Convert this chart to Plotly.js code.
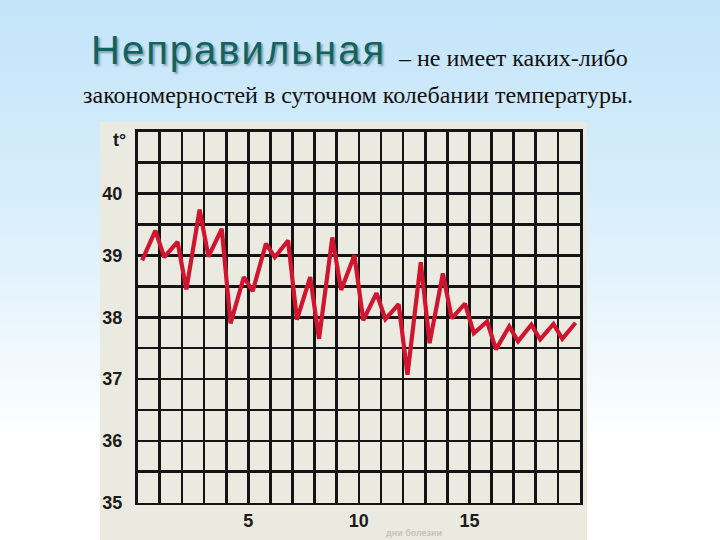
<!DOCTYPE html>
<html>
<head>
<meta charset="utf-8">
<script src="https://cdn.plot.ly/plotly-3.0.1.min.js"></script>
<style>
html, body { margin: 0; padding: 0; }
body {
  width: 720px; height: 540px; overflow: hidden;
  background: linear-gradient(to bottom, #C3E4F9 0%, #D6EDFB 35%, #EAF6FD 60%, #FFFFFF 82%, #FFFFFF 100%);
}
#chart { width: 720px; height: 540px; }
.annotation[data-index="0"] text { letter-spacing: 2px; }
</style>
</head>
<body>
<div id="chart"></div>
<script>
// Days of illness
const days = [1,2,3,4,5,6,7,8,9,10,11,12,13,14,15,16,17,18,19,20];
// Morning temperature readings, °C
const morning = [38.92, 38.97, 38.45, 38.98, 37.90, 38.42, 38.97, 37.96, 37.65, 38.44,
                 37.95, 37.97, 37.07, 37.58, 37.98, 37.74, 37.48, 37.61, 37.64, 37.65];
// Evening temperature readings, °C
const evening = [39.40, 39.22, 39.74, 39.43, 38.65, 39.19, 39.24, 38.65, 39.29, 39.00,
                 38.39, 38.21, 38.89, 38.71, 38.22, 37.93, 37.85, 37.88, 37.89, 37.91];
// Tick labels
const xTickLabels = ["5", "10", "15"];
const xTickValues = [5, 10, 15];
const yTickValues = [35, 36, 37, 38, 39, 40];
const yTickLabels = ["35", "36", "37", "38", "39", "40"];
const yUnitLabel = "t°";
const xTitle = "дни болезни";
const titleMain = "Неправильная";
const titleRest = "– не имеет каких-либо";
const titleLine2 = "закономерностей в суточном колебании температуры.";

// Build the morning/evening sequence
const xs = [], ys = [];
days.forEach((d, i) => {
  xs.push(d - 1 + 0.2); ys.push(morning[i]);
  xs.push(d - 1 + 0.8); ys.push(evening[i]);
});

const trace = {
  x: xs, y: ys, type: 'scatter', mode: 'lines',
  line: { color: '#D0152F', width: 4.2, shape: 'linear' },
  hoverinfo: 'skip', showlegend: false
};

const serif = '"Liberation Serif", "Times New Roman", "DejaVu Serif", serif';
const tickFont = { family: '"Liberation Sans", Arial, sans-serif', size: 18, color: '#1b1b1b', weight: 'bold' };

const layout = {
  width: 720, height: 540,
  margin: { l: 0, r: 0, t: 0, b: 0 },
  paper_bgcolor: 'rgba(0,0,0,0)',
  plot_bgcolor: '#EEEDE5',
  showlegend: false,
  xaxis: {
    domain: [137.7/720, 580/720],
    range: [0, 20],
    tickmode: 'array', tickvals: xTickValues, ticktext: xTickLabels,
    ticks: '', tickfont: tickFont, ticklabelstandoff: 0,
    showgrid: true, gridcolor: '#141414', gridwidth: 2.7,
    minor: { dtick: 1, tick0: 0, showgrid: true, gridcolor: '#141414', gridwidth: 2.7 },
    showline: true, linecolor: '#141414', linewidth: 2.7, mirror: true,
    zeroline: false, fixedrange: true
  },
  yaxis: {
    domain: [(540-502.7)/540, (540-131.7)/540],
    range: [35, 41],
    tickmode: 'array', tickvals: yTickValues, ticktext: yTickLabels,
    ticks: '', tickfont: tickFont, ticklabelstandoff: 9,
    showgrid: true, gridcolor: '#141414', gridwidth: 2.7,
    minor: { dtick: 0.5, tick0: 35, showgrid: true, gridcolor: '#141414', gridwidth: 2.7 },
    showline: true, linecolor: '#141414', linewidth: 2.7, mirror: true,
    zeroline: false, fixedrange: true
  },
  shapes: [
    { type: 'rect', xref: 'paper', yref: 'paper', layer: 'below',
      x0: 100/720, x1: 587/720, y0: 0, y1: 1 - 122/540,
      fillcolor: '#EAEAE0', line: { width: 0 } }
  ],
  annotations: [
    { text: titleMain, xref: 'paper', yref: 'paper', x: 101/720, y: 1 - 50/540,
      xanchor: 'left', yanchor: 'middle', showarrow: false,
      font: { family: '"Liberation Sans", Arial, sans-serif', size: 40, color: '#12625F',
              shadow: '2px 2px 2px rgba(0,40,40,0.35)' } },
    { text: titleRest, xref: 'paper', yref: 'paper', x: 396/720, y: 1 - 58/540,
      xanchor: 'left', yanchor: 'middle', showarrow: false,
      font: { family: serif, size: 24, color: '#111' } },
    { text: titleLine2, xref: 'paper', yref: 'paper', x: 358/720, y: 1 - 95/540,
      xanchor: 'center', yanchor: 'middle', showarrow: false,
      font: { family: serif, size: 24, color: '#111' } },
    { text: yUnitLabel, xref: 'paper', yref: 'paper', x: 128/720, y: 1 - 140/540,
      xanchor: 'right', yanchor: 'middle', showarrow: false,
      font: tickFont },
    { text: xTitle, xref: 'paper', yref: 'paper', x: 414/720, y: 0,
      xanchor: 'center', yanchor: 'bottom', showarrow: false,
      font: { family: '"Liberation Sans", Arial, sans-serif', size: 9, color: '#c4c4bc', weight: 'bold' } }
  ]
};

Plotly.newPlot('chart', [trace], layout, { displayModeBar: false, staticPlot: true });
</script>
</body>
</html>
